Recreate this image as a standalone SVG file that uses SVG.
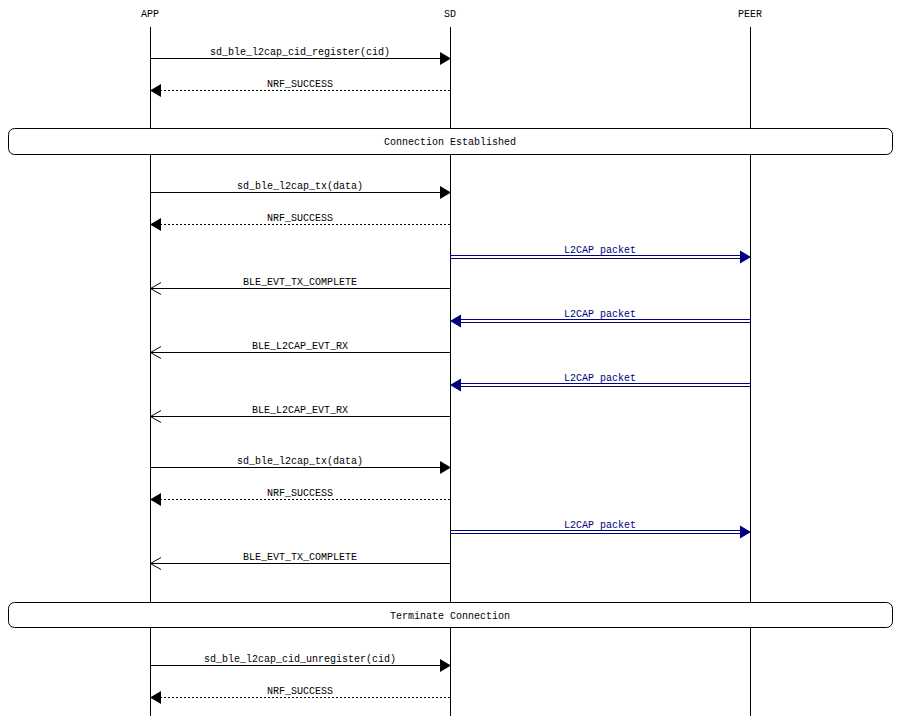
<svg xmlns="http://www.w3.org/2000/svg" width="900" height="716" viewBox="0 0 900 716">
<defs>
<style>
text{font-family:"Liberation Mono","DejaVu Sans Mono",monospace;font-size:10px;fill:#000;text-anchor:middle}
.life{stroke:#000;stroke-width:1}
.m{stroke:#000;stroke-width:1;fill:none}
.d{stroke:#000;stroke-width:1;fill:none;stroke-dasharray:2,2}
.b{stroke:#000080;stroke-width:1;fill:none}
.bt{fill:#000080}
.box{fill:#fff;stroke:#000;stroke-width:1}
.fill{fill:#000;stroke:none}
.navy{fill:#000080;stroke:none}
</style>
</defs>
<rect width="900" height="716" fill="#fff"/>
<g id="APP"><text x="150" y="17">APP</text><line class="life" x1="150.5" y1="27" x2="150.5" y2="716"/></g>
<g id="SD"><text x="450" y="17">SD</text><line class="life" x1="450.5" y1="27" x2="450.5" y2="716"/></g>
<g id="PEER"><text x="750" y="17">PEER</text><line class="life" x1="750.5" y1="27" x2="750.5" y2="716"/></g>
<g id="connectors">
<!-- register -->
<line class="m" x1="150" y1="58.5" x2="441" y2="58.5"/><polygon class="fill" points="440,52 451,58.5 440,65"/>
<text x="300" y="55">sd_ble_l2cap_cid_register(cid)</text>
<line class="d" x1="450" y1="90.5" x2="160" y2="90.5"/><polygon class="fill" points="161,84 150,90.5 161,97"/>
<text x="300" y="87">NRF_SUCCESS</text>
<!-- tx 1 -->
<line class="m" x1="150" y1="192.5" x2="441" y2="192.5"/><polygon class="fill" points="440,186 451,192.5 440,199"/>
<text x="300" y="189">sd_ble_l2cap_tx(data)</text>
<line class="d" x1="450" y1="224.5" x2="160" y2="224.5"/><polygon class="fill" points="161,218 150,224.5 161,231"/>
<text x="300" y="221">NRF_SUCCESS</text>
<line class="b" x1="450" y1="255.5" x2="741" y2="255.5"/><line class="b" x1="450" y1="258.5" x2="741" y2="258.5"/><polygon class="navy" points="740,250.5 751,257 740,263.5"/>
<text class="bt" x="600" y="253">L2CAP packet</text>
<polyline class="m" points="450,288.5 150.5,288.5"/><polyline class="m" points="161,282.5 150.5,288.5 161,294.5"/>
<text x="300" y="285">BLE_EVT_TX_COMPLETE</text>
<line class="b" x1="750" y1="319.5" x2="459" y2="319.5"/><line class="b" x1="750" y1="322.5" x2="459" y2="322.5"/><polygon class="navy" points="461,314.5 450,321 461,327.5"/>
<text class="bt" x="600" y="317">L2CAP packet</text>
<polyline class="m" points="450,352.5 150.5,352.5"/><polyline class="m" points="161,346.5 150.5,352.5 161,358.5"/>
<text x="300" y="349">BLE_L2CAP_EVT_RX</text>
<line class="b" x1="750" y1="383.5" x2="459" y2="383.5"/><line class="b" x1="750" y1="386.5" x2="459" y2="386.5"/><polygon class="navy" points="461,378.5 450,385 461,391.5"/>
<text class="bt" x="600" y="381">L2CAP packet</text>
<polyline class="m" points="450,416.5 150.5,416.5"/><polyline class="m" points="161,410.5 150.5,416.5 161,422.5"/>
<text x="300" y="413">BLE_L2CAP_EVT_RX</text>
<!-- tx 2 -->
<line class="m" x1="150" y1="467.5" x2="441" y2="467.5"/><polygon class="fill" points="440,461 451,467.5 440,474"/>
<text x="300" y="464">sd_ble_l2cap_tx(data)</text>
<line class="d" x1="450" y1="499.5" x2="160" y2="499.5"/><polygon class="fill" points="161,493 150,499.5 161,506"/>
<text x="300" y="496">NRF_SUCCESS</text>
<line class="b" x1="450" y1="530.5" x2="741" y2="530.5"/><line class="b" x1="450" y1="533.5" x2="741" y2="533.5"/><polygon class="navy" points="740,525.5 751,532 740,538.5"/>
<text class="bt" x="600" y="528">L2CAP packet</text>
<polyline class="m" points="450,563.5 150.5,563.5"/><polyline class="m" points="161,557.5 150.5,563.5 161,569.5"/>
<text x="300" y="560">BLE_EVT_TX_COMPLETE</text>
<!-- unregister -->
<line class="m" x1="150" y1="665.5" x2="441" y2="665.5"/><polygon class="fill" points="440,659 451,665.5 440,672"/>
<text x="300" y="662">sd_ble_l2cap_cid_unregister(cid)</text>
<line class="d" x1="450" y1="697.5" x2="160" y2="697.5"/><polygon class="fill" points="161,691 150,697.5 161,704"/>
<text x="300" y="694">NRF_SUCCESS</text>
</g>
<g id="box_connection"><rect class="box" x="8.5" y="128.5" width="884" height="26" rx="6" ry="6"/><text x="450" y="145">Connection Established</text></g>
<g id="box_terminate"><rect class="box" x="8.5" y="602.5" width="884" height="25" rx="6" ry="6"/><text x="450" y="619">Terminate Connection</text></g>
</svg>
